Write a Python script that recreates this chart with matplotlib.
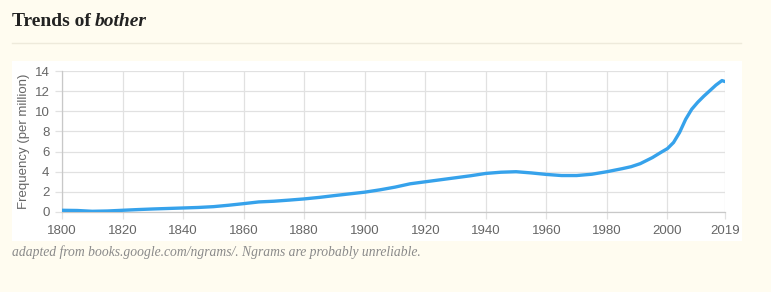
import numpy as np
import matplotlib
matplotlib.use("Agg")
import matplotlib.pyplot as plt
from matplotlib.patches import Rectangle
from matplotlib.lines import Line2D

# data (frequency per million)
years = [1800, 1805, 1810, 1815, 1820, 1825, 1830, 1835, 1840, 1845, 1850, 1855,
         1860, 1865, 1870, 1875, 1880, 1885, 1890, 1895, 1900, 1905, 1910, 1915,
         1920, 1925, 1930, 1935, 1940, 1945, 1950, 1955, 1960, 1965, 1970, 1975,
         1980, 1985, 1988, 1991, 1995, 1998, 2000, 2002, 2004, 2006, 2008, 2010,
         2012, 2014, 2016, 2018, 2019]
freq = [0.17, 0.15, 0.07, 0.1, 0.17, 0.24, 0.3, 0.35, 0.4, 0.45, 0.53, 0.67,
        0.83, 1.0, 1.07, 1.18, 1.3, 1.45, 1.63, 1.8, 1.97, 2.2, 2.47, 2.8,
        3.0, 3.2, 3.4, 3.6, 3.83, 3.95, 4.0, 3.88, 3.73, 3.62, 3.62, 3.75,
        4.0, 4.3, 4.5, 4.8, 5.4, 5.95, 6.3, 6.9, 7.9, 9.2, 10.2, 10.9,
        11.5, 12.05, 12.6, 13.05, 12.95]
xticks = [1800, 1820, 1840, 1860, 1880, 1900, 1920, 1940, 1960, 1980, 2000, 2019]
yticks = [0, 2, 4, 6, 8, 10, 12, 14]

W, H = 771, 292
bg = "#fffcf0"
fig = plt.figure(figsize=(W / 100, H / 100), dpi=100, facecolor=bg)

# white chart panel
fig.patches.append(Rectangle((12 / W, 1 - 241 / H), 730 / W, 180 / H,
                             transform=fig.transFigure, facecolor="white",
                             edgecolor="none", zorder=-1))
# separator under title
fig.lines.append(Line2D([12 / W, 741 / W], [1 - 42.5 / H] * 2,
                        transform=fig.transFigure, color="#eeeadb", lw=1,
                        zorder=-1))

t1 = fig.text(12 / W, 1 - 21 / H, "Trends of", family="Liberation Serif",
              weight="bold", size=14, color="#222222", va="center")
r = fig.canvas.get_renderer()
x2 = t1.get_window_extent(r).x1 + 4
fig.text(x2 / W, 1 - 21 / H, "bother", family="Liberation Serif",
         weight="bold", style="italic", size=14, color="#222222", va="center")
fig.text(12 / W, 1 - 252 / H,
         "adapted from books.google.com/ngrams/. Ngrams are probably unreliable.",
         family="Liberation Serif", style="italic", size=9.8, color="#8a8a8a",
         va="center")

ax = fig.add_axes([62 / W, 1 - 212 / H, 663 / W, 141 / H])
ax.set_facecolor("white")
ax.plot(years, freq, color="#36a2eb", lw=2.4, solid_capstyle="round",
        solid_joinstyle="round", zorder=3)
ax.set_xlim(1800, 2019)
ax.set_ylim(0, 14)
ax.set_xticks(xticks)
ax.set_yticks(yticks)
ax.grid(True, color="#e1e1e1", lw=0.9)
ax.set_axisbelow(True)
for s in ["top", "right"]:
    ax.spines[s].set_visible(False)
for s in ["left", "bottom"]:
    ax.spines[s].set_color("#c8c8c8")
    ax.spines[s].set_linewidth(0.9)
ax.tick_params(length=5, width=0.9, color="#e1e1e1", labelcolor="#666666",
               labelsize=9.5, pad=4)
for lab in ax.get_xticklabels() + ax.get_yticklabels():
    lab.set_family("Liberation Sans")
ax.set_ylabel("Frequency (per million)", family="Liberation Sans", size=9.5,
              color="#666666", labelpad=3)

fig.savefig("out.png", dpi=100, facecolor=bg)
